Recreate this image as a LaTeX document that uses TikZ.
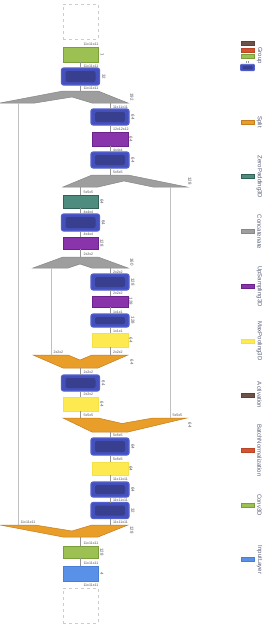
\documentclass[tikz,border=0pt]{standalone}
\usepackage{fontspec}
\setmainfont{Liberation Sans}
\definecolor{grpout}{RGB}{68,80,188}
\definecolor{grpbd}{RGB}{82,96,206}
\definecolor{grpin}{RGB}{56,63,142}
\definecolor{convc}{RGB}{156,193,82}
\definecolor{convb}{RGB}{122,158,58}
\definecolor{tealc}{RGB}{78,140,128}
\definecolor{tealb}{RGB}{48,98,88}
\definecolor{purc}{RGB}{137,52,170}
\definecolor{purb}{RGB}{108,34,140}
\definecolor{yelc}{RGB}{252,234,80}
\definecolor{yelb}{RGB}{244,224,72}
\definecolor{orac}{RGB}{232,158,40}
\definecolor{orab}{RGB}{196,126,30}
\definecolor{grayc}{RGB}{158,158,158}
\definecolor{grayb}{RGB}{136,136,136}
\definecolor{inc}{RGB}{90,145,232}
\definecolor{inb}{RGB}{72,126,214}
\definecolor{actc}{RGB}{110,82,74}
\definecolor{bnc}{RGB}{216,82,48}
\definecolor{linec}{RGB}{150,150,150}
\definecolor{skipc}{RGB}{192,192,192}
\definecolor{labc}{RGB}{80,80,90}
\definecolor{legc}{RGB}{88,94,120}
\definecolor{dashc}{RGB}{205,205,205}
\tikzset{
  layer/.style={draw, line width=0.8pt, minimum width=35pt, inner sep=0pt, outer sep=0pt},
  convbox/.style={layer, fill=convc, draw=convb},
  tealbox/.style={layer, fill=tealc, draw=tealb},
  purbox/.style={layer, fill=purc, draw=purb},
  yelbox/.style={layer, fill=yelc, draw=yelb},
  inbox/.style={layer, fill=inc, draw=inb},
  ghost/.style={draw=dashc, dashed, line width=0.6pt, minimum width=35pt, minimum height=35pt, inner sep=0pt, outer sep=0pt},
  grpbox/.style={draw=grpbd, fill=grpout, line width=1.1pt, rounded corners=2pt, minimum width=38pt, inner sep=0pt, outer sep=0pt,
    path picture={\fill[grpin] ([xshift=4pt,yshift=3pt]path picture bounding box.south west) rectangle ([xshift=-4pt,yshift=-3pt]path picture bounding box.north east);}},
  conn/.style={draw=linec, line width=0.6pt},
  skipline/.style={draw=skipc, line width=0.9pt},
  catshape/.style={fill=grayc, draw=grayb, line width=0.5pt, line join=miter},
  splitshape/.style={fill=orac, draw=orab, line width=0.5pt, line join=miter},
  dimlab/.style={font=\fontsize{3.6}{4}\selectfont, text=labc, anchor=south west, inner sep=0.3pt},
  sidelab/.style={font=\fontsize{4.4}{5}\selectfont, text=labc, rotate=-90, inner sep=0.3pt},
  leglab/.style={font=\fontsize{6}{7}\selectfont, text=legc, rotate=-90, inner sep=0pt},
  swatch/.style={draw, line width=0.6pt, minimum width=13pt, minimum height=4pt, inner sep=0pt},
}
\begin{document}
\begin{tikzpicture}[x=1pt,y=-1pt]
\useasboundingbox (0,0) rectangle (267,627);
\fill[white] (0,0) rectangle (267,627);

% ---------- merge / split shapes ----------
\filldraw[catshape] (0,103) -- (63,91) -- (98,91) -- (128,103) -- (92,103) -- (72,97) -- (35,103) -- cycle;
\filldraw[catshape] (63,187) -- (92,175) -- (128,175) -- (187,187) -- (153,187) -- (124,181) -- (98,187) -- cycle;
\filldraw[catshape] (33,268) -- (63,257) -- (98,257) -- (128,268) -- (92,268) -- (80,264) -- (68,268) -- cycle;
\filldraw[splitshape] (33,355) -- (68,355) -- (80,360) -- (92,355) -- (128,355) -- (98,368) -- (63,368) -- cycle;
\filldraw[splitshape] (63,418) -- (98,418) -- (122,423.5) -- (153,418) -- (187,418) -- (128,432) -- (92,432) -- cycle;
\filldraw[splitshape] (0,525) -- (35,525) -- (72,531) -- (92,525) -- (128,525) -- (98,537) -- (63,537) -- cycle;

\coordinate (g1top) at (80.5,91);  \coordinate (g1R) at (110,103); \coordinate (g1L) at (18,103);
\coordinate (g2top) at (110,175);  \coordinate (g2L) at (80.5,187); \coordinate (g2R) at (170,187);
\coordinate (g3top) at (80.5,257); \coordinate (g3R) at (110,268); \coordinate (g3L) at (51,268);
\coordinate (o1R) at (110,355); \coordinate (o1L) at (51,355); \coordinate (o1B) at (80.5,368);
\coordinate (o2L) at (80.5,418); \coordinate (o2R) at (170,418); \coordinate (o2B) at (110,432);
\coordinate (o3R) at (110,525); \coordinate (o3L) at (18,525); \coordinate (o3B) at (80.5,537);

% ---------- layers ----------
\node[ghost] (outg) at (80.5,21.5) {};
\node[convbox, minimum height=15pt] (conv1) at (80.5,54.5) {};
\node[grpbox, minimum height=17pt] (grpA) at (80.5,76.5) {};
\node[grpbox, minimum height=16pt] (grpB) at (110,117) {};
\node[purbox, minimum height=14pt, minimum width=36pt] (up1) at (110,139) {};
\node[grpbox, minimum height=16pt] (grpC) at (110,160) {};
\node[tealbox, minimum height=13pt] (pad) at (80.5,201.5) {};
\node[grpbox, minimum height=17pt] (grpD) at (80.5,222.5) {};
\node[purbox, minimum height=12pt] (up2) at (80.5,243) {};
\node[grpbox, minimum height=16pt] (grpE) at (110,282) {};
\node[purbox, minimum height=11pt, minimum width=36pt] (up3) at (110,301.5) {};
\node[grpbox, minimum height=13pt] (grpF) at (110,320.5) {};
\node[yelbox, minimum height=14pt, minimum width=36pt] (pool1) at (110,340) {};
\node[grpbox, minimum height=16pt] (grpG) at (80.5,383) {};
\node[yelbox, minimum height=14pt] (pool2) at (80.5,404) {};
\node[grpbox, minimum height=17pt] (grpH) at (110,446.5) {};
\node[yelbox, minimum height=13pt, minimum width=36pt] (pool3) at (110,468.5) {};
\node[grpbox, minimum height=15pt] (grpI) at (110,489.5) {};
\node[grpbox, minimum height=16pt] (grpJ) at (110,510.5) {};
\node[convbox, minimum height=12pt] (conv2) at (80.5,552) {};
\node[inbox, minimum height=15pt] (inp) at (80.5,573.5) {};
\node[ghost] (ing) at (80.5,605.5) {};

% ---------- connectors ----------
\draw[conn] (conv1.south) -- (grpA.north);
\draw[conn] (grpA.south) -- (g1top);
\draw[conn] (g1R) -- (grpB.north);
\draw[conn] (grpB.south) -- (up1.north);
\draw[conn] (up1.south) -- (grpC.north);
\draw[conn] (grpC.south) -- (g2top);
\draw[conn] (g2L) -- (pad.north);
\draw[conn] (pad.south) -- (grpD.north);
\draw[conn] (grpD.south) -- (up2.north);
\draw[conn] (up2.south) -- (g3top);
\draw[conn] (g3R) -- (grpE.north);
\draw[conn] (grpE.south) -- (up3.north);
\draw[conn] (up3.south) -- (grpF.north);
\draw[conn] (grpF.south) -- (pool1.north);
\draw[conn] (pool1.south) -- (o1R);
\draw[conn] (o1B) -- (grpG.north);
\draw[conn] (grpG.south) -- (pool2.north);
\draw[conn] (pool2.south) -- (o2L);
\draw[conn] (o2B) -- (grpH.north);
\draw[conn] (grpH.south) -- (pool3.north);
\draw[conn] (pool3.south) -- (grpI.north);
\draw[conn] (grpI.south) -- (grpJ.north);
\draw[conn] (grpJ.south) -- (o3R);
\draw[conn] (o3B) -- (conv2.north);
\draw[conn] (conv2.south) -- (inp.north);
\draw[skipline] (o3L) -- (g1L);
\draw[skipline] (o1L) -- (g3L);
\draw[skipline] (o2R) -- (g2R);

% ---------- shape labels ----------
\node[dimlab] (d1) at (83,46.2) {11x11x11};
\node[dimlab] (d2) at (83,67.5) {11x11x11};
\node[dimlab] (d3) at (83,90) {11x11x11};
\node[dimlab] (d4) at (112.5,108.5) {11x11x11};
\node[dimlab] (d5) at (112.5,131) {12x12x12};
\node[dimlab] (d6) at (112.5,151.5) {4x4x4};
\node[dimlab] (d7) at (112.5,174) {5x5x5};
\node[dimlab] (d8) at (83,194) {5x5x5};
\node[dimlab] (d9) at (83,213.5) {4x4x4};
\node[dimlab] (d10) at (83,236) {4x4x4};
\node[dimlab] (d11) at (83,256) {2x2x2};
\node[dimlab] (d12) at (112.5,273.5) {2x2x2};
\node[dimlab] (d13) at (112.5,295) {2x2x2};
\node[dimlab] (d14) at (112.5,313.5) {1x1x1};
\node[dimlab] (d15) at (112.5,332.5) {1x1x1};
\node[dimlab] (d16) at (112.5,354) {2x2x2};
\node[dimlab] (d17) at (53,354) {2x2x2};
\node[dimlab] (d18) at (83,374) {2x2x2};
\node[dimlab] (d19) at (83,396) {2x2x2};
\node[dimlab] (d20) at (83,417) {5x5x5};
\node[dimlab] (d21) at (172,417) {5x5x5};
\node[dimlab] (d22) at (112.5,437.5) {5x5x5};
\node[dimlab] (d23) at (112.5,461) {5x5x5};
\node[dimlab] (d24) at (112.5,481) {11x11x11};
\node[dimlab] (d25) at (112.5,501.8) {11x11x11};
\node[dimlab] (d26) at (112.5,524) {11x11x11};
\node[dimlab] (d27) at (20,524) {11x11x11};
\node[dimlab] (d28) at (83,545) {11x11x11};
\node[dimlab] (d29) at (83,565) {11x11x11};
\node[dimlab] (d30) at (83,587) {11x11x11};

% ---------- feature counts ----------
\node[sidelab] (s1) at (102.5,54.5) {1};
\node[sidelab] (s2) at (104,76.5) {32};
\node[sidelab] (s3) at (132,97) {192};
\node[sidelab] (s4) at (133,117) {64};
\node[sidelab] (s5) at (131,139) {64};
\node[sidelab] (s6) at (133,160) {64};
\node[sidelab] (s7) at (190,181) {128};
\node[sidelab] (s8) at (102,201.5) {64};
\node[sidelab] (s9) at (103.5,222.5) {64};
\node[sidelab] (s10) at (102,243) {128};
\node[sidelab] (s11) at (132,262) {160};
\node[sidelab] (s12) at (133,282) {128};
\node[sidelab] (s13) at (131,301.5) {128};
\node[sidelab] (s14) at (133,320.5) {128};
\node[sidelab] (s15) at (131,340) {64};
\node[sidelab] (s16) at (132,362) {64};
\node[sidelab] (s17) at (103.5,383) {64};
\node[sidelab] (s18) at (102,404) {64};
\node[sidelab] (s19) at (190,425) {64};
\node[sidelab] (s20) at (133,446.5) {64};
\node[sidelab] (s21) at (131,468.5) {64};
\node[sidelab] (s22) at (133,489.5) {64};
\node[sidelab] (s23) at (133,510.5) {32};
\node[sidelab] (s24) at (132,530) {128};
\node[sidelab] (s25) at (102,552) {128};
\node[sidelab] (s26) at (102,573.5) {4};

% ---------- legend ----------
\node[swatch, fill=actc, draw=actc!80!black] (lgA) at (247.5,43.5) {};
\node[swatch, fill=bnc, draw=bnc!85!black] (lgB) at (247.5,50) {};
\node[swatch, fill=convc, draw=convb] (lgC) at (247.5,56.5) {};
\draw[linec, line width=0.5pt] (246.6,60.8) -- (246.6,63.2) (248.4,60.8) -- (248.4,63.2);
\node[grpbox, minimum width=14pt, minimum height=6.5pt, line width=0.8pt, rounded corners=1pt,
  path picture={\fill[grpin] ([xshift=2pt,yshift=1.5pt]path picture bounding box.south west) rectangle ([xshift=-2pt,yshift=-1.5pt]path picture bounding box.north east);}] (lgD) at (247.5,67.5) {};
\node[leglab] (tGroup) at (259.5,55.5) {Group};
\node[swatch, fill=orac, draw=orab] (lgSplit) at (247.5,122) {};
\node[leglab] (tSplit) at (259.5,122) {Split};
\node[swatch, fill=tealc, draw=tealb] (lgPad) at (247.5,176.5) {};
\node[leglab] (tPad) at (259.5,177) {ZeroPadding3D};
\node[swatch, fill=grayc, draw=grayb] (lgCat) at (247.5,231.5) {};
\node[leglab] (tCat) at (259.5,232) {Concatenate};
\node[swatch, fill=purc, draw=purb] (lgUp) at (247.5,286.5) {};
\node[leglab] (tUp) at (259.5,286.5) {UpSampling3D};
\node[swatch, fill=yelc, draw=yelb] (lgPool) at (247.5,341) {};
\node[leglab] (tPool) at (259.5,341) {MaxPooling3D};
\node[swatch, fill=actc, draw=actc!80!black] (lgAct) at (247.5,395) {};
\node[leglab] (tAct) at (259.5,395) {Activation};
\node[swatch, fill=bnc, draw=bnc!85!black] (lgBN) at (247.5,450.5) {};
\node[leglab] (tBN) at (259.5,450.5) {BatchNormalization};
\node[swatch, fill=convc, draw=convb] (lgConv) at (247.5,505) {};
\node[leglab] (tConv) at (259.5,505) {Conv3D};
\node[swatch, fill=inc, draw=inb] (lgIn) at (247.5,559.5) {};
\node[leglab] (tIn) at (259.5,560) {InputLayer};
\end{tikzpicture}
\end{document}
